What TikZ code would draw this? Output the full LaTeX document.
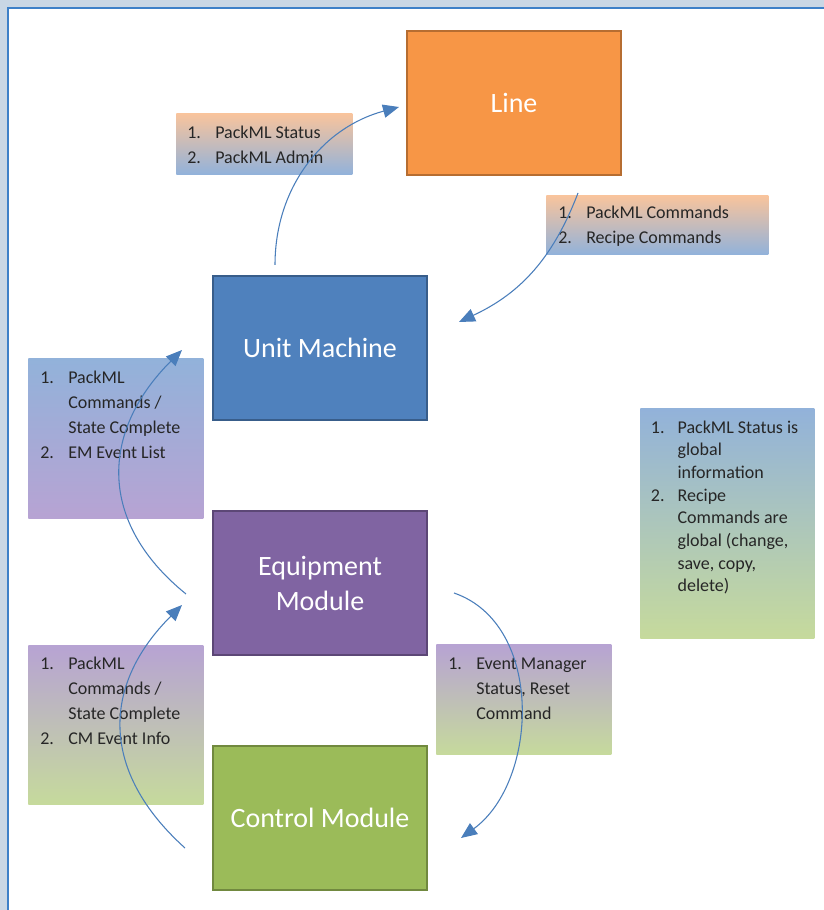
\documentclass[tikz,border=0pt]{standalone}
\usepackage{fontspec}
\setmainfont{Carlito}
\usetikzlibrary{arrows.meta,calc}

\definecolor{framebg}{HTML}{C9D7E5}
\definecolor{frameblue}{HTML}{3D80C8}
\definecolor{lineorange}{HTML}{F79646}
\definecolor{lineedge}{HTML}{B66D31}
\definecolor{unitblue}{HTML}{4F81BD}
\definecolor{unitedge}{HTML}{385D8A}
\definecolor{emviolet}{HTML}{8064A2}
\definecolor{emedge}{HTML}{5C4776}
\definecolor{cmgreen}{HTML}{9BBB59}
\definecolor{cmedge}{HTML}{71893F}
\definecolor{tagorange}{HTML}{F9C49C}
\definecolor{tagblue}{HTML}{92B2DA}
\definecolor{tagviolet}{HTML}{B7A3D3}
\definecolor{taggreen}{HTML}{C6DA9C}
\definecolor{flowblue}{HTML}{4A7EBB}
\definecolor{tagink}{HTML}{262626}

% numbered lines inside the small tag boxes
\newcommand{\tagitems}[2][21pt]{\begin{tabular}{@{}p{#1}@{}l@{}}#2\end{tabular}}

\begin{document}
\begin{tikzpicture}[x=0.75pt, y=0.75pt,
    level/.style={draw=#1, line width=1.5pt, minimum width=160.5pt, minimum height=108pt,
        inner sep=0pt, align=center, text=white, font=\fontsize{21}{26}\selectfont},
    tag/.style={anchor=north west, inner sep=0pt},
    tagtext/.style={anchor=north west, inner sep=0pt, text=tagink,
        font=\fontsize{13.5}{18.75}\selectfont},
    flow/.style={draw=flowblue, line width=0.8pt, -{Triangle[length=12pt,width=10pt]}}]

    % Frame
    \useasboundingbox (0,0) rectangle (824,910);
    \fill[framebg] (0,0) rectangle (824,910);
    \fill[white] (8,0) rectangle (824,902);
    \draw[frameblue, line width=1.5pt] (8,0) -- (8,902) -- (824,902);

    % Hierarchy levels
    \node[level=lineedge, fill=lineorange] (line) at (514,807) {Line};
    \node[level=unitedge, fill=unitblue] (unit) at (320,562) {Unit Machine};
    \node[level=emedge, fill=emviolet] (equip) at (320,326.5) {Equipment\\Module};
    \node[level=cmedge, fill=cmgreen] (ctrl) at (320,92) {Control Module};

    % Tag boxes (gradient backgrounds)
    \node[tag, top color=tagorange, bottom color=tagblue, minimum width=132pt, minimum height=45.75pt] (status) at (176,797) {};
    \node[tag, top color=tagorange, bottom color=tagblue, minimum width=166.5pt, minimum height=44.25pt] (cmds) at (546,715) {};
    \node[tag, top color=tagblue, bottom color=tagviolet, minimum width=131.25pt, minimum height=120pt] (toum) at (28,552) {};
    \node[tag, top color=tagviolet, bottom color=taggreen, minimum width=131.25pt, minimum height=119.25pt] (toem) at (28,265) {};
    \node[tag, top color=tagviolet, bottom color=taggreen, minimum width=131.25pt, minimum height=82.5pt] (tocm) at (436,266) {};
    \node[tag, top color=tagblue, bottom color=taggreen, minimum width=130.5pt, minimum height=172.5pt] (note) at (640,502) {};

    % Tag texts
    \node[tagtext] (statustxt) at ([xshift=8.25pt, yshift=-5.6pt]status.north west)
        {\tagitems{1. & PackML Status\\ 2. & PackML Admin}};
    \node[tagtext] (cmdstxt) at ([xshift=9pt, yshift=-4.5pt]cmds.north west)
        {\tagitems{1. & PackML Commands\\ 2. & Recipe Commands}};
    \node[tagtext] (toumtxt) at ([xshift=9pt, yshift=-6pt]toum.north west)
        {\tagitems{1. & PackML\\ & Commands /\\ & State Complete\\ 2. & EM Event List}};
    \node[tagtext] (toemtxt) at ([xshift=9pt, yshift=-5pt]toem.north west)
        {\tagitems{1. & PackML\\ & Commands /\\ & State Complete\\ 2. & CM Event Info}};
    \node[tagtext] (tocmtxt) at ([xshift=9pt, yshift=-6pt]tocm.north west)
        {\tagitems{1. & Event Manager\\ & Status, Reset\\ & Command}};
    \node[tagtext, font=\fontsize{13.5}{17}\selectfont] (notetxt) at ([xshift=8pt, yshift=-6.9pt]note.north west)
        {\tagitems[20pt]{1. & PackML Status is\\ & global\\ & information\\ 2. & Recipe\\ & Commands are\\ & global (change,\\ & save, copy,\\ & delete)}};

    % Arrow ends
    \coordinate (a1) at ($(unit.north)+(-45,10)$);
    \coordinate (b1) at ($(line.west)+(-7,-4)$);
    \coordinate (a2) at ($(line.south)+(64,-17)$);
    \coordinate (b2) at ($(unit.east)+(31,26)$);
    \coordinate (a3) at ($(equip.west)+(-26,-10.5)$);
    \coordinate (b3) at ($(unit.west)+(-30,-2)$);
    \coordinate (a4) at ($(ctrl.west)+(-27,-30)$);
    \coordinate (b4) at ($(equip.west)+(-30,-21.5)$);
    \coordinate (a5) at ($(equip.east)+(26,-9.5)$);
    \coordinate (b5) at ($(ctrl.east)+(33,-20)$);

    % Information flow
    \draw[flow] (a1) to[out=90, in=195] (b1);
    \draw[flow] (a2) to[out=249, in=25] (b2);
    \draw[flow] (a3) to[out=141, in=225, looseness=1.2] (b3);
    \draw[flow] (a4) to[out=138, in=225, looseness=1.2] (b4);
    \draw[flow] (a5) to[out=-19, in=36] (b5);

\end{tikzpicture}
\end{document}
